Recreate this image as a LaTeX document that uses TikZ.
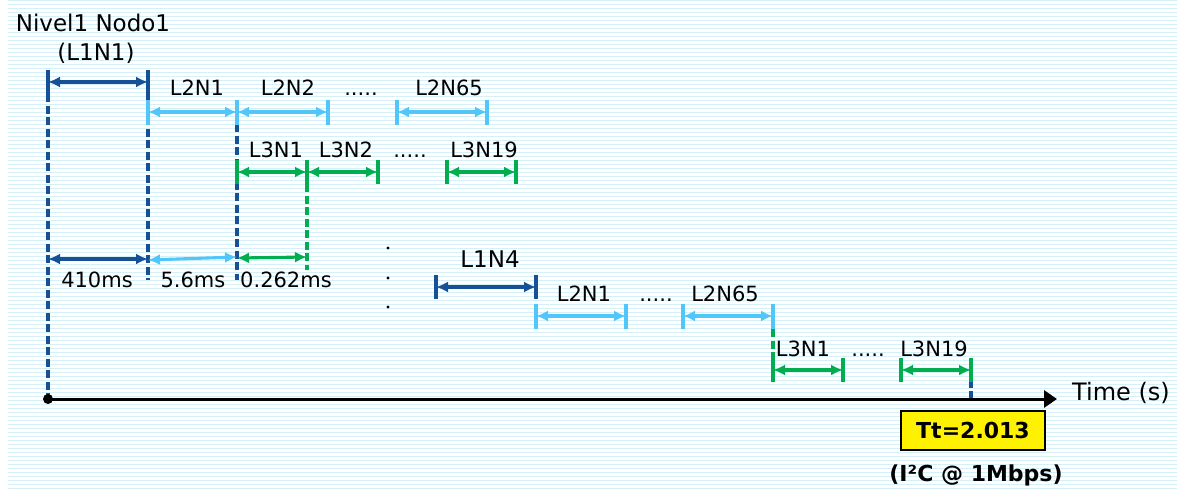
\documentclass[tikz,border=0pt]{standalone}
\usepackage{fontspec}
\setmainfont{DejaVu Sans}
\usetikzlibrary{arrows.meta}

\definecolor{dblue}{RGB}{22,80,150}
\definecolor{lblue}{RGB}{80,198,250}
\definecolor{dgreen}{RGB}{0,174,80}
\definecolor{ruling}{RGB}{214,240,248}

\tikzset{
  ruleline/.style={ruling, line width=1pt},
  span/.style={line width=3.1pt, {Latex[length=12pt,width=11pt]}-{Latex[length=12pt,width=11pt]}},
  endtick/.style={line width=3.4pt},
  guide/.style={line width=3.2pt, dash pattern=on 8pt off 3.5pt},
  lab/.style={font=\fontsize{21}{21}\selectfont, anchor=base, inner sep=0pt},
  biglab/.style={font=\fontsize{23}{23}\selectfont, anchor=base, inner sep=0pt},
  boldlab/.style={font=\fontsize{22}{22}\selectfont\bfseries, inner sep=0pt},
}

\begin{document}
\begin{tikzpicture}[x=1pt,y=-1pt]
\useasboundingbox (0,0) rectangle (1177,490);

% ruled background
\foreach \k in {0,...,122}
  \draw[ruleline] (8,{4*\k+0.5}) -- (1177,{4*\k+0.5});

% ---------- coordinates ----------
% level 1, node 1
\coordinate (a1) at (48,82);   \coordinate (a2) at (148,82);
% level 2 under node 1
\coordinate (b1) at (148,112); \coordinate (b2) at (237,112);
\coordinate (b3) at (328,112); \coordinate (b4) at (397,112);
\coordinate (b5) at (487,112);
% level 3 under L2N1
\coordinate (c1) at (237,172); \coordinate (c2) at (307,172);
\coordinate (c3) at (378,172); \coordinate (c4) at (447,172);
\coordinate (c5) at (516,172);
% duration row
\coordinate (m1) at (48,259);  \coordinate (m2) at (148,259);
\coordinate (m2b) at (148,260); \coordinate (m3) at (237,257);
\coordinate (m3b) at (237,258); \coordinate (m4) at (307,257);
% level 1, node 4
\coordinate (d1) at (436,287); \coordinate (d2) at (536,287);
% level 2 under node 4
\coordinate (e1) at (536,316); \coordinate (e2) at (626,316);
\coordinate (e3) at (683,316); \coordinate (e4) at (773,316);
% level 3 under L2N65
\coordinate (f1) at (773,370); \coordinate (f2) at (843,370);
\coordinate (f3) at (901,370); \coordinate (f4) at (971,370);
% time axis
\coordinate (o) at (48,399);   \coordinate (t) at (1057,399);
\coordinate (tt) at (971,399);

% ---------- guide lines ----------
\draw[guide,dblue] ([yshift=-12pt]a1) -- (o);
\draw[guide,dblue] ([yshift=-12pt]a2) -- (148,280);
\draw[guide,dblue] ([yshift=-12pt]b2) -- (237,280);
\draw[guide,dgreen] ([yshift=-12pt]c2) -- (307,270);
\draw[guide,dgreen] ([yshift=-13pt]e4) -- (773,382);
\draw[guide,dblue] ([yshift=2pt]f4) -- (tt);

% ---------- level 1 ----------
\draw[endtick,dblue] ([yshift=12pt]a1) -- ([yshift=-12pt]a1);
\draw[endtick,dblue] ([yshift=12pt]a2) -- ([yshift=-12pt]a2);
\draw[span,dblue] (a1) -- (a2);

\draw[endtick,dblue] ([yshift=12pt]d1) -- ([yshift=-12pt]d1);
\draw[endtick,dblue] ([yshift=12pt]d2) -- ([yshift=-12pt]d2);
\draw[span,dblue] (d1) -- (d2);

% ---------- level 2 ----------
\foreach \p in {b1,b2,b3,b4,b5,e1,e2,e3,e4}
  \draw[endtick,lblue] ([yshift=12pt]\p) -- ([yshift=-13pt]\p);
\draw[span,lblue] (b1) -- (b2);
\draw[span,lblue] (b2) -- (b3);
\draw[span,lblue] (b4) -- (b5);
\draw[span,lblue] (e1) -- (e2);
\draw[span,lblue] (e3) -- (e4);

% ---------- level 3 ----------
\foreach \p in {c1,c2,c3,c4,c5,f1,f2,f3,f4}
  \draw[endtick,dgreen] ([yshift=12pt]\p) -- ([yshift=-12pt]\p);
\draw[span,dgreen] (c1) -- (c2);
\draw[span,dgreen] (c2) -- (c3);
\draw[span,dgreen] (c4) -- (c5);
\draw[span,dgreen] (f1) -- (f2);
\draw[span,dgreen] (f3) -- (f4);

% ---------- durations ----------
\draw[span,dblue] (m1) -- (m2);
\draw[span,lblue] (m2b) -- (m3);
\draw[span,dgreen] (m3b) -- (m4);

% ---------- labels ----------
\node[biglab] (title) at (93,31) {Nivel1 Nodo1};
\node[biglab] (l1n1) at (96,60) {(L1N1)};

\node[lab] (t2n1) at (197,95) {L2N1};
\node[lab] (t2n2) at (288,95) {L2N2};
\node[lab] (t2dots) at (361,95) {.....};
\node[lab] (t2n65) at (449,95) {L2N65};

\node[lab] (t3n1) at (276,157) {L3N1};
\node[lab] (t3n2) at (346,157) {L3N2};
\node[lab] (t3dots) at (410,157) {.....};
\node[lab] (t3n19) at (484,157) {L3N19};

\node[lab] (d410) at (97,287) {410ms};
\node[lab] (d56) at (193,287) {5.6ms};
\node[lab] (d262) at (286,287) {0.262ms};

\foreach \yy/\nm in {248/v1,278/v2,307/v3}
  \fill (388,\yy) circle (1.6pt) coordinate (\nm);

\node[biglab] (l1n4) at (490,267) {L1N4};
\node[lab] (u2n1) at (584,301) {L2N1};
\node[lab] (u2dots) at (656,301) {.....};
\node[lab] (u2n65) at (725,301) {L2N65};

\node[lab] (u3n1) at (803,356) {L3N1};
\node[lab] (u3dots) at (868,356) {.....};
\node[lab] (u3n19) at (934,356) {L3N19};

% ---------- time axis ----------
\draw[line width=3pt,-{Triangle[length=13pt,width=17pt]}] (o) -- (t);
\fill (o) circle (5pt);
\node[font=\fontsize{24}{24}\selectfont, anchor=base, inner sep=0pt] (time) at (1121,400) {Time (s)};

\node[boldlab, draw=black, line width=1.5pt, fill=yellow,
      minimum width=144pt, minimum height=39pt] (tot) at (973,430.5) {Tt=2.013};
\node[boldlab, anchor=base] (bus) at (976,481) {(I²C @ 1Mbps)};
\end{tikzpicture}
\end{document}
